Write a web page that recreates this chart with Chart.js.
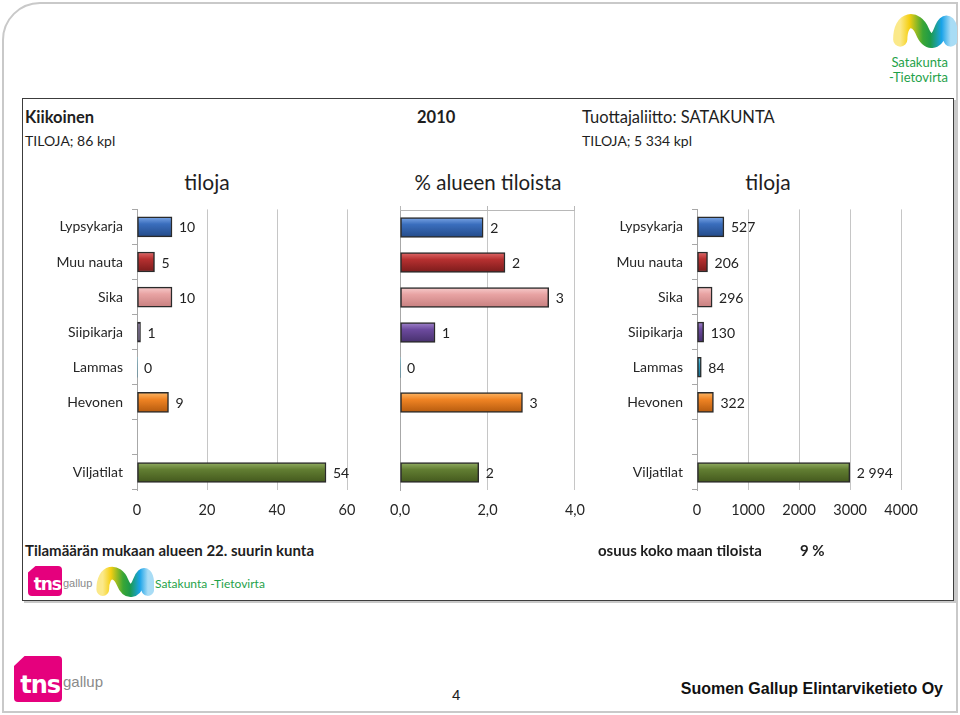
<!DOCTYPE html>
<html>
<head>
<meta charset="utf-8">
<script src="https://cdn.jsdelivr.net/npm/chart.js@4/dist/chart.umd.min.js"></script>
<style>
  body { margin: 0; background: #fff; font-family: Lato, sans-serif; color: #1e1e1e; }
  #page { position: relative; width: 960px; height: 715px; overflow: hidden; }
  .abs { position: absolute; white-space: nowrap; line-height: 20px; }
  canvas { position: absolute; }
  #frame { position: absolute; left: 2px; top: 2px; width: 952px; height: 707px;
           border: 2px solid #c9c9c9; border-top-left-radius: 38px; }
  #box { position: absolute; left: 22px; top: 98px; width: 930px; height: 501px;
         border: 1px solid #3c3c3c; box-shadow: 2px 2px 0 #c8c8c8; }
  .green { color: #1fa24a; }
  .tns { position: absolute; background: #e5007d; border-radius: 4px;
         clip-path: polygon(22% 0, 100% 0, 100% 100%, 0 100%, 0 22%); }
  .tns span { position: absolute; left: 0; right: 0; bottom: 0; color: #fff; font-weight: 900;
              font-family: "DejaVu Sans", sans-serif; text-align: right; letter-spacing: -1px; }
</style>
</head>
<body>
<div id="page">
  <div id="frame"></div>

  <svg width="0" height="0" style="position:absolute">
    <defs>
      <linearGradient id="wave" x1="0" y1="0" x2="1" y2="0">
        <stop offset="0" stop-color="#fbe98a"/>
        <stop offset="0.18" stop-color="#f5cf12"/>
        <stop offset="0.45" stop-color="#3aa635"/>
        <stop offset="0.6" stop-color="#1d9a4a"/>
        <stop offset="0.82" stop-color="#1aa3e8"/>
        <stop offset="1" stop-color="#a8dcf5"/>
      </linearGradient>
    </defs>
  </svg>

  <!-- top right logo -->
  <svg class="abs" style="left:891px;top:11px" width="66" height="38" viewBox="0 0 68 40">
    <path d="M9,30 C9,6 26,6 32,21 C38,36 47,34 52,20 C57,6 63,12 62,30" fill="none" stroke="url(#wave)" stroke-width="15" stroke-linecap="round"/>
  </svg>
  <div class="abs green" style="right:12px;top:52px;font-size:13px">Satakunta</div>
  <div class="abs green" style="right:12px;top:67px;font-size:13px">-Tietovirta</div>

  <div id="box"></div>

  <div class="abs" style="left:25px;top:107px;font-size:16.5px;font-weight:700">Kiikoinen</div>
  <div class="abs" style="left:417px;top:107px;font-size:16.5px;font-weight:700">2010</div>
  <div class="abs" style="left:582px;top:107px;font-size:16.5px">Tuottajaliitto: SATAKUNTA</div>
  <div class="abs" style="left:25px;top:131px;font-size:14px">TILOJA; 86 kpl</div>
  <div class="abs" style="left:582px;top:131px;font-size:14px">TILOJA; 5 334 kpl</div>

  <div class="abs" style="left:157px;width:100px;text-align:center;top:172px;font-size:21px">tiloja</div>
  <div class="abs" style="left:388px;width:200px;text-align:center;top:172px;font-size:20.5px">% alueen tiloista</div>
  <div class="abs" style="left:718px;width:100px;text-align:center;top:172px;font-size:21px">tiloja</div>

  <canvas id="c1" width="345" height="333" style="left:25px;top:192px"></canvas>
  <canvas id="c2" width="219" height="325" style="left:378px;top:200px"></canvas>
  <canvas id="c3" width="345" height="333" style="left:585px;top:192px"></canvas>

  <div class="abs" style="left:25px;top:540px;font-size:15px;font-weight:700">Tilamäärän mukaan alueen 22. suurin kunta</div>
  <div class="abs" style="left:598px;top:540px;font-size:15px;font-weight:700">osuus koko maan tiloista</div>
  <div class="abs" style="left:800px;top:540px;font-size:15px;font-weight:700">9 %</div>

  <!-- small logos in box -->
  <div class="tns" style="left:28px;top:566px;width:34px;height:30px"><span style="font-size:17px;line-height:24px;padding-right:1px">tns</span></div>
  <div class="abs" style="left:63px;top:573px;font-size:11px;color:#8a8a8a;font-family:'Liberation Sans Narrow','Liberation Sans',sans-serif">gallup</div>
  <svg class="abs" style="left:94px;top:564px" width="60" height="34" viewBox="0 0 68 40">
    <path d="M9,30 C9,6 26,6 32,21 C38,36 47,34 52,20 C57,6 63,12 62,30" fill="none" stroke="url(#wave)" stroke-width="15" stroke-linecap="round"/>
  </svg>
  <div class="abs green" style="left:155px;top:574px;font-size:12px">Satakunta -Tietovirta</div>

  <!-- footer -->
  <div class="tns" style="left:14px;top:656px;width:48px;height:46px"><span style="font-size:24px;line-height:34px;padding-right:2px">tns</span></div>
  <div class="abs" style="left:63px;top:672px;font-size:15px;color:#8a8a8a;font-family:'Liberation Sans Narrow','Liberation Sans',sans-serif">gallup</div>
  <div class="abs" style="left:452px;top:685px;font-size:15px;font-family:'Liberation Sans',sans-serif">4</div>
  <div class="abs" style="right:17px;top:679px;font-size:16px;font-weight:700;font-family:'Liberation Sans',sans-serif;color:#111">Suomen Gallup Elintarviketieto Oy</div>
</div>

<script>
// categories (empty slot separates Viljatilat)
const categories = ['Lypsykarja', 'Muu nauta', 'Sika', 'Siipikarja', 'Lammas', 'Hevonen', '', 'Viljatilat'];
// Kiikoinen, farms
const kunnanTilat = [10, 5, 10, 1, 0, 9, null, 54];
// share of region's farms, %
const osuusAlueesta = [1.9, 2.4, 3.4, 0.8, 0, 2.8, null, 1.8];
// Satakunta, farms
const alueenTilat = [527, 206, 296, 130, 84, 322, null, 2994];

const ticksLeft = [0, 20, 40, 60];
const ticksMid = [0, 2, 4];
const ticksRight = [0, 1000, 2000, 3000, 4000];

// bar colours: light, base, dark
const palette = [
  ['#7ba6e6', '#3a6ebd', '#234a88'],
  ['#e06a6a', '#b63030', '#7a1b1b'],
  ['#f7cccc', '#e8a3a3', '#c77f7f'],
  ['#a184cc', '#6c4a9e', '#46306c'],
  ['#78d0ea', '#2ea0c4', '#1a6d8c'],
  ['#fdb766', '#f08424', '#b45a0e'],
  ['#999', '#999', '#999'],
  ['#93ae63', '#627e32', '#43581d']
];

Chart.defaults.font.family = 'Lato, sans-serif';
Chart.defaults.color = '#262626';

function barFill(ctx) {
  const p = palette[ctx.dataIndex];
  const chart = ctx.chart;
  if (!chart.chartArea) return p[1];
  const y = chart.scales.y.getPixelForValue(ctx.dataIndex);
  const g = chart.ctx.createLinearGradient(0, y - 10, 0, y + 10);
  g.addColorStop(0, p[0]);
  g.addColorStop(0.35, p[1]);
  g.addColorStop(1, p[2]);
  return g;
}

function valueLabels(fmt) {
  return {
    id: 'valueLabels',
    afterDatasetsDraw(chart) {
      const c = chart.ctx;
      const ds = chart.data.datasets[0];
      c.save();
      c.font = '14px Lato, sans-serif';
      c.fillStyle = '#222';
      c.textBaseline = 'middle';
      chart.getDatasetMeta(0).data.forEach((bar, i) => {
        const v = ds.data[i];
        if (v === null) return;
        c.fillText(fmt(v), bar.x + 7, bar.y + 1);
      });
      c.restore();
    }
  };
}

function makeChart(id, values, tickVals, o) {
  const scales = {
    x: {
      type: 'linear', min: tickVals[0], max: tickVals[tickVals.length - 1],
      afterBuildTicks: s => { s.ticks = tickVals.map(v => ({ value: v })); },
      afterFit: s => { s.height = 35; },
      grid: { color: '#c6c6c6', drawTicks: false },
      border: { display: false },
      ticks: { padding: 12, font: { size: 14.5 }, autoSkip: false, maxRotation: 0, callback: o.tickFmt }
    },
    y: {
      afterFit: s => { s.width = o.yWidth; },
      border: { display: true, color: '#a8a8a8' },
      grid: { drawOnChartArea: false, drawTicks: o.showCats, tickLength: 5, color: '#a8a8a8', offset: true },
      ticks: { display: o.showCats, padding: 9, font: { size: 14 } }
    }
  };
  if (o.topAxis) {
    scales.x2 = {
      type: 'linear', position: 'top', min: tickVals[0], max: tickVals[tickVals.length - 1],
      afterBuildTicks: s => { s.ticks = tickVals.map(v => ({ value: v })); },
      afterFit: s => { s.height = 4; },
      grid: { drawOnChartArea: false, drawTicks: true, tickLength: 4, color: '#b8b8b8' },
      border: { display: true, color: '#b8b8b8' },
      ticks: { display: false }
    };
  }
  return new Chart(document.getElementById(id), {
    type: 'bar',
    data: {
      labels: categories,
      datasets: [{
        data: values,
        backgroundColor: barFill,
        borderColor: '#2a2a2a',
        borderWidth: c => (c.raw ? 1.5 : 0),
        borderSkipped: false,
        barThickness: 20
      }]
    },
    options: {
      indexAxis: 'y',
      responsive: false,
      animation: false,
      layout: { padding: { top: o.padTop, right: o.padRight, left: 0, bottom: 0 } },
      plugins: { legend: { display: false }, tooltip: { enabled: false } },
      scales: scales
    },
    plugins: [valueLabels(o.valFmt)]
  });
}

const spaced = v => String(v).replace(/\B(?=(\d{3})+(?!\d))/g, ' ');

makeChart('c1', kunnanTilat, ticksLeft, {
  yWidth: 112, padRight: 23, padTop: 2, showCats: true,
  valFmt: v => String(Math.round(v)), tickFmt: v => String(v)
});
makeChart('c2', osuusAlueesta, ticksMid, {
  yWidth: 15, padRight: 16, padTop: 6, showCats: false, topAxis: true,
  valFmt: v => String(Math.round(v)), tickFmt: v => v.toFixed(1).replace('.', ',')
});
makeChart('c3', alueenTilat, ticksRight, {
  yWidth: 112, padRight: 23, padTop: 2, showCats: true,
  valFmt: v => spaced(v), tickFmt: v => String(v)
});
</script>
</body>
</html>
